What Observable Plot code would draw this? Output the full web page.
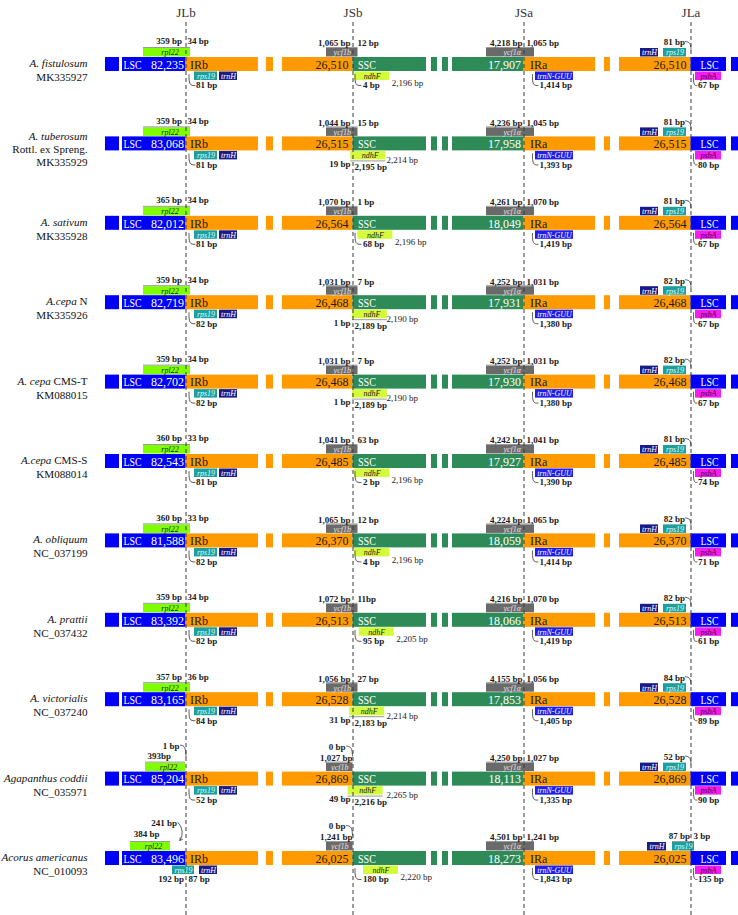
<!DOCTYPE html>
<html><head><meta charset="utf-8">
<script src="https://cdn.jsdelivr.net/npm/d3@7"></script>
<script src="https://cdn.jsdelivr.net/npm/@observablehq/plot@0.6"></script>
<style>body{margin:0;background:#fff} svg{display:block}</style>
</head><body><div id="chart"></div>
<script>
// ---------- data ----------
const speciesItalic = ["A. fistulosum","A. tuberosum","A. sativum","A.cepa","A. cepa","A.cepa","A. obliquum","A. prattii","A. victorialis","Agapanthus coddii","Acorus americanus"];
const speciesPlain  = ["","",""," N"," CMS-T"," CMS-S","","","","",""];
const speciesExtra  = ["","Rottl. ex Spreng.","","","","","","","","",""];
const accessions    = ["MK335927","MK335929","MK335928","MK335926","KM088015","KM088014","NC_037199","NC_037432","NC_037240","NC_035971","NC_010093"];
const junctions     = ["JLb","JSb","JSa","JLa"];
const lscLen = ["82,235","83,068","82,012","82,719","82,702","82,543","81,588","83,392","83,165","85,204","83,496"];
const irLen  = ["26,510","26,515","26,564","26,468","26,468","26,485","26,370","26,513","26,528","26,869","26,025"];
const sscLen = ["17,907","17,958","18,049","17,931","17,930","17,927","18,059","18,066","17,853","18,113","18,273"];
// JLb
const rpl22Mode  = ["cross","cross","cross","cross","cross","cross","cross","cross","cross","end","gap"];
const rpl22Left  = ["359 bp","359 bp","365 bp","359 bp","359 bp","360 bp","360 bp","359 bp","357 bp","393bp","384 bp"];
const rpl22Right = ["34 bp","34 bp","34 bp","34 bp","34 bp","33 bp","33 bp","34 bp","36 bp","1 bp","241 bp"];
const rps19bMode  = ["gap","gap","gap","gap","gap","gap","gap","gap","gap","gap","cross"];
const rps19bLeft  = ["81 bp","81 bp","81 bp","82 bp","82 bp","81 bp","82 bp","82 bp","84 bp","52 bp","192 bp"];
const rps19bRight = ["","","","","","","","","","","87 bp"];
// JSb
const ycf1bMode  = ["cross","cross","cross","cross","cross","cross","cross","cross","cross","end","end"];
const ycf1bLeft  = ["1,065 bp","1,044 bp","1,070 bp","1,031 bp","1,031 bp","1,041 bp","1,065 bp","1,072 bp","1,056 bp","1,027 bp","1,241 bp"];
const ycf1bRight = ["12 bp","15 bp","1 bp","7 bp","7 bp","63 bp","12 bp","11bp","27 bp","0 bp","0 bp"];
const ndhFMode  = ["gap","cross","gap","cross","cross","gap","gap","gap","cross","cross","gap"];
const ndhFA     = ["4 bp","19 bp","68 bp","1 bp","1 bp","2 bp","4 bp","95 bp","31 bp","49 bp","180 bp"];
const ndhFB     = ["","2,195 bp","","2,189 bp","2,189 bp","","","","2,183 bp","2,216 bp",""];
const ndhFLen   = ["2,196 bp","2,214 bp","2,196 bp","2,190 bp","2,190 bp","2,196 bp","2,196 bp","2,205 bp","2,214 bp","2,265 bp","2,220 bp"];
// JSa
const ycf1aLeft  = ["4,218 bp","4,236 bp","4,261 bp","4,252 bp","4,252 bp","4,242 bp","4,224 bp","4,216 bp","4,155 bp","4,250 bp","4,501 bp"];
const ycf1aRight = ["1,065 bp","1,045 bp","1,070 bp","1,031 bp","1,031 bp","1,041 bp","1,065 bp","1,070 bp","1,056 bp","1,027 bp","1,241 bp"];
const trnNGap    = ["1,414 bp","1,393 bp","1,419 bp","1,380 bp","1,380 bp","1,390 bp","1,414 bp","1,419 bp","1,405 bp","1,335 bp","1,843 bp"];
// JLa
const rps19aMode  = ["gap","gap","gap","gap","gap","gap","gap","gap","gap","gap","cross"];
const rps19aLeft  = ["81 bp","81 bp","81 bp","82 bp","82 bp","81 bp","82 bp","82 bp","84 bp","52 bp","87 bp"];
const rps19aRight = ["","","","","","","","","","","3 bp"];
const psbAGap     = ["67 bp","80 bp","67 bp","67 bp","67 bp","74 bp","71 bp","61 bp","89 bp","90 bp","135 bp"];

// ---------- schematic layout ----------
const J = {Lb:185.5, Sb:352.5, Sa:523.5, La:690.5};
const segs = [[105,119,"LSC"],[122,J.Lb,"LSC"],[J.Lb,258,"IR"],[266,273,"IR"],[282,J.Sb,"IR"],
  [J.Sb,426,"SSC"],[431,437,"SSC"],[442,448,"SSC"],[452,J.Sa,"SSC"],
  [J.Sa,595,"IR"],[604,610,"IR"],[619,J.La,"IR"],[J.La,726,"LSC"],[731,740,"LSC"]];
const regionColor = {LSC:"#0000fa", IR:"#ff9a00", SSC:"#2e8b57"};
const gc = {rpl22:"#80ff00", rps19:"#1f9e9e", trnH:"#1a1a88", ycf1:"#6a6a6a", ndhF:"#d4fa3c", trnN:"#1e1eee", psbA:"#f01ef0"};
const R = accessions.length;
const rowTop = 64, rowBottom = 858, step = (rowBottom-rowTop)/(R-1);
const off = (i, px) => i + px/step;

const rects = [], texts = [], leaders = [], brackets = [], arrows = [];
const T = (i, x, d, text, anchor, cls, fill="#1a1a1a") => { if (text) texts.push({x, y: off(i,d), text, anchor, cls, fill}); };
const B = (i, x1, x2, a, b, fill) => rects.push({x1, x2, y1: off(i,a), y2: off(i,b), fill});
const H = (i, x1, x2, d) => brackets.push({x1, x2, y: off(i,d)});
let lid = 0;
const L = (i, pts) => { lid++; pts.forEach(([x,d]) => leaders.push({id: lid, x, y: off(i,d)})); };
const UP = [-16,-7.5], DN = [7.5,16], GU = -11.75, GD = 11.75;
const num = s => +s.replace(/[^0-9]/g,"");

for (let i = 0; i < R; i++) {
  for (const [a,b,r] of segs) B(i, a, b, -7, 7, regionColor[r]);
  T(i, 123, 0.5, "LSC", "start", "region", "#fff");
  T(i, 183.5, 0.5, lscLen[i], "end", "region", "#fff");
  T(i, 189.5, 0.5, "IRb", "start", "region");
  T(i, 348, 0.5, irLen[i], "end", "region");
  T(i, 357.5, 0.5, "SSC", "start", "region", "#fff");
  T(i, 520.5, 0.5, sscLen[i], "end", "region", "#fff");
  T(i, 529.5, 0.5, "IRa", "start", "region");
  T(i, 686, 0.5, irLen[i], "end", "region");
  T(i, 700, 0.5, "LSC", "start", "region", "#fff");

  // JLb : rpl22 above
  let r1, r2;
  if (rpl22Mode[i] === "cross") { r1 = 143; r2 = J.Lb + 4.5; }
  else if (rpl22Mode[i] === "end") { r1 = 145; r2 = J.Lb - 0.5; }
  else { r1 = 130; r2 = 170; }
  B(i, r1, r2, ...UP, gc.rpl22); H(i, r1, r2, -17);
  T(i, (r1+r2)/2 + 3, GU, "rpl22", "middle", "gene", "#1a2600");
  if (rpl22Mode[i] === "cross") {
    T(i, J.Lb - 4, -23, rpl22Left[i], "end", "bp");
    T(i, J.Lb + 1.5, -23, rpl22Right[i], "start", "bp");
  } else if (rpl22Mode[i] === "end") {
    T(i, 147, -23, rpl22Left[i], "start", "bp");
    T(i, J.Lb - 6.5, -33, rpl22Right[i], "end", "bp");
    L(i, [[J.Lb-5.5,-34],[J.Lb-0.5,-33],[J.Lb,-22]]);
  } else {
    T(i, 146, -24, rpl22Left[i], "middle", "bp");
    T(i, J.Lb - 9, -35, rpl22Right[i], "end", "bp");
    arrows.push({x1: J.Lb-8, y1: off(i,-36), x2: J.Lb-6, y2: off(i,-18)});
  }
  // JLb : rps19 + trnH below
  if (rps19bMode[i] === "gap") {
    B(i, 194, 217, ...DN, gc.rps19); T(i, 205.5, GD, "rps19", "middle", "gene", "#d8ffff");
    B(i, 219, 237, ...DN, gc.trnH); T(i, 228, GD, "trnH", "middle", "gene", "#fff");
    L(i, [[J.Lb+3,10],[J.Lb+3,21],[J.Lb+9,21]]);
    T(i, J.Lb + 10, 21, rps19bLeft[i], "start", "bp");
  } else {
    B(i, 172, 194, ...DN, gc.rps19); T(i, 183, GD, "rps19", "middle", "gene", "#d8ffff");
    B(i, 199, 217, ...DN, gc.trnH); T(i, 208, GD, "trnH", "middle", "gene", "#fff");
    T(i, J.Lb - 2, 21, rps19bLeft[i], "end", "bp");
    T(i, J.Lb + 2.5, 21, rps19bRight[i], "start", "bp");
  }

  // JSb : ycf1b above
  const y2 = ycf1bMode[i] === "cross" ? J.Sb + 5 : J.Sb;
  B(i, 326, y2, ...UP, gc.ycf1); H(i, 326, y2, -17);
  T(i, (326 + y2)/2, GU, "ycf1b", "middle", "gene", "#e4e4e4");
  if (ycf1bMode[i] === "cross") {
    T(i, J.Sb - 2.5, -21, ycf1bLeft[i], "end", "bp");
    T(i, J.Sb + 4.5, -21, ycf1bRight[i], "start", "bp");
  } else {
    T(i, J.Sb - 0.5, -21, ycf1bLeft[i], "end", "bp");
    T(i, J.Sb - 7.5, -32, ycf1bRight[i], "end", "bp");
    L(i, [[J.Sb-6.5,-33],[J.Sb-1,-32],[J.Sb-0.5,-23]]);
  }
  // JSb : ndhF below
  if (ndhFMode[i] === "gap") {
    const n1 = J.Sb + 1.5 + num(ndhFA[i]) * 0.05, n2 = n1 + 35;
    B(i, n1, n2, ...DN, gc.ndhF); T(i, (n1+n2)/2, GD, "ndhF", "middle", "gene", "#1a1a1a");
    L(i, [[J.Sb+2,10],[J.Sb+2,21],[J.Sb+8,21]]);
    T(i, J.Sb + 10, 21, ndhFA[i], "start", "bp");
    T(i, n2 + 2, 19, ndhFLen[i], "start", "len");
  } else {
    const n1 = J.Sb - 0.5 - num(ndhFA[i]) * 0.09, n2 = n1 + 35;
    B(i, n1, n2, ...DN, gc.ndhF); T(i, (n1+n2)/2 + 2, GD, "ndhF", "middle", "gene", "#1a1a1a");
    H(i, n1, n2, 17);
    T(i, J.Sb - 2.5, 20, ndhFA[i], "end", "bp");
    T(i, J.Sb + 1.5, 23.5, ndhFB[i], "start", "bp");
    T(i, Math.max(n2 - 3, J.Sb + 33.5), 16.5, ndhFLen[i], "start", "len");
  }

  // JSa
  B(i, 486, J.Sa + 10.5, ...UP, gc.ycf1); H(i, 486, J.Sa + 10.5, -17);
  T(i, J.Sa - 3, GU, "ycf1α", "end", "gene", "#e4e4e4");
  T(i, J.Sa - 1.5, -21, ycf1aLeft[i], "end", "bp");
  T(i, J.Sa + 2.5, -21, ycf1aRight[i], "start", "bp");
  B(i, 535, 573, ...DN, gc.trnN); T(i, 554, GD, "trnN-GUU", "middle", "gene", "#fff");
  L(i, [[J.Sa+8.5,10],[J.Sa+8.5,21],[J.Sa+14,21]]);
  T(i, J.Sa + 15.5, 21, trnNGap[i], "start", "bp");

  // JLa
  if (rps19aMode[i] === "gap") {
    B(i, 640, 658, ...UP, gc.trnH); T(i, 649, GU, "trnH", "middle", "gene", "#fff");
    B(i, 663, 686, ...UP, gc.rps19); T(i, 674.5, GU, "rps19", "middle", "gene", "#d8ffff");
    T(i, J.La - 6, -22, rps19aLeft[i], "end", "bp");
    L(i, [[J.La-5.5,-23],[J.La-0.5,-22],[J.La,-15]]);
  } else {
    B(i, 647, 666, ...UP, gc.trnH); T(i, 656.5, GU, "trnH", "middle", "gene", "#fff");
    B(i, 672, 694, ...UP, gc.rps19); T(i, 683, GU, "rps19", "middle", "gene", "#d8ffff");
    H(i, 672, 694, -17);
    T(i, J.La - 1, -22, rps19aLeft[i], "end", "bp");
    T(i, J.La + 2.5, -22, rps19aRight[i], "start", "bp");
  }
  B(i, 695, 721, ...DN, gc.psbA); T(i, 708, GD, "psbA", "middle", "gene", "#4a004a");
  L(i, [[J.La+2.5,10],[J.La+2.5,21],[J.La+6,21]]);
  T(i, J.La + 7, 21, psbAGap[i], "start", "bp");
}

// species labels
const spRecs = [];
for (let i = 0; i < R; i++) {
  const lines = [[speciesItalic[i], speciesPlain[i] || ""]];
  if (speciesExtra[i]) lines.push(["", speciesExtra[i]]);
  lines.push(["", accessions[i]]);
  const offs = lines.length === 3 ? [-7, 6, 19] : [-1, 13];
  lines.forEach(([it, pl], k) => spRecs.push({x: 87, y: off(i, offs[k]), it, pl, text: it + pl}));
}
const juncRecs = junctions.map((j, k) => ({x: [J.Lb, J.Sb, J.Sa, J.La][k], y: off(0, -52), text: j}));

const styles = {
  bp: {fontSize: 9, fontWeight: "bold"},
  len: {fontSize: 9, fontWeight: "normal"},
  gene: {fontSize: 8, fontStyle: "italic"},
  region: {fontSize: 12}
};
const textMarks = [];
for (const cls of Object.keys(styles)) for (const anchor of ["start","middle","end"]) {
  const d = texts.filter(t => t.cls === cls && t.anchor === anchor);
  if (d.length) textMarks.push(Plot.text(d, {x: "x", y: "y", text: "text", fill: "fill", textAnchor: anchor,
    fontFamily: "Liberation Serif", ...styles[cls]}));
}

const plot = Plot.plot({
  width: 738, height: 915,
  marginTop: 22, marginBottom: 0, marginLeft: 0, marginRight: 0,
  x: {domain: [0, 738], range: [0, 738], axis: null},
  y: {domain: [0, R-1], range: [rowTop, rowBottom], axis: null},
  color: {type: "identity"},
  style: {background: "#fff"},
  marks: [
    Plot.rect(rects, {x1: "x1", x2: "x2", y1: "y1", y2: "y2", fill: "fill"}),
    Plot.ruleY(brackets, {x1: "x1", x2: "x2", y: "y", stroke: "#9a9a9a", strokeWidth: 1}),
    Plot.ruleX([J.Lb, J.Sb, J.Sa, J.La], {stroke: "#3a3a3a", strokeWidth: 1, strokeDasharray: "4,3"}),
    Plot.line(leaders, {x: "x", y: "y", z: "id", curve: "basis", stroke: "#333", strokeWidth: 0.8}),
    Plot.arrow(arrows, {x1: "x1", y1: "y1", x2: "x2", y2: "y2", bend: 40, headLength: 5, stroke: "#333", strokeWidth: 0.8}),
    ...textMarks,
    Plot.text(juncRecs, {x: "x", y: "y", text: "text", fontSize: 13, fontFamily: "Liberation Serif", fill: "#333"}),
    Plot.text(spRecs, {x: "x", y: "y", text: "text", textAnchor: "end", fontSize: 11.1, fontFamily: "Liberation Serif", fill: "#111"})
  ]
});
// mixed italic / roman species names
d3.select(plot).selectAll('g[font-size="11.1"] text').each(function(_, k) {
  const r = spRecs[k]; if (!r) return;
  const t = d3.select(this); t.text(null);
  if (r.it) t.append("tspan").attr("font-style", "italic").text(r.it);
  if (r.pl) t.append("tspan").text(r.pl);
});
// narrow region abbreviations like the reference's condensed lettering
d3.select(plot).selectAll('g[font-size="12"] text').filter(function() {
  return this.textContent === "LSC" || this.textContent === "SSC";
}).attr("textLength", 18).attr("lengthAdjust", "spacingAndGlyphs");
document.getElementById("chart").append(plot);
</script>
</body></html>
